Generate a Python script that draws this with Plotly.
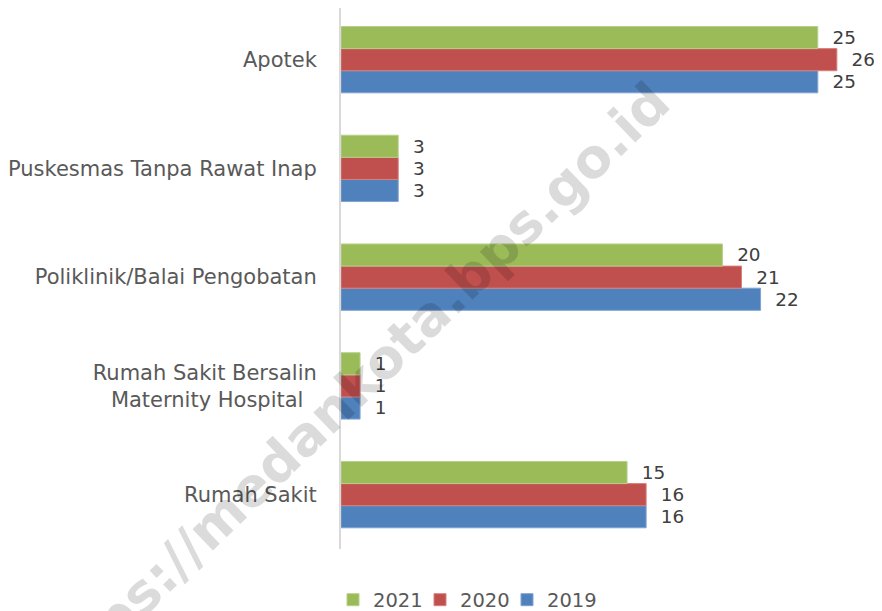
import plotly.graph_objects as go

categories = ["Rumah Sakit", "Rumah Sakit Bersalin<br>Maternity Hospital\u00a0\u00a0", "Poliklinik/Balai Pengobatan",
              "Puskesmas Tanpa Rawat Inap", "Apotek"]
years = ["2019", "2020", "2021"]
v2019 = [16, 1, 22, 3, 25]
v2020 = [16, 1, 21, 3, 26]
v2021 = [15, 1, 20, 3, 25]
colors = {"2019": "#4F81BD", "2020": "#C0504D", "2021": "#9BBB59"}
edge = {"2019": "#7FA3D0", "2020": "#D8807D", "2021": "#B7D08A"}
values = {"2019": v2019, "2020": v2020, "2021": v2021}

FONT = "DejaVu Sans"
# the page body adds an 8px offset; the figure is sized to fill the rest
W, H = 874, 603
fig = go.Figure()
for yr in years:
    fig.add_trace(go.Bar(
        y=categories, x=values[yr], name=yr, orientation="h",
        marker=dict(color=colors[yr], line=dict(color=edge[yr], width=1)),
        text=["\u00a0\u00a0" + str(v) for v in values[yr]], textposition="outside", cliponaxis=False,
        textfont=dict(family=FONT, size=20, color="#404040"),
        legendwidth=60 if yr == "2019" else None,
    ))

fig.update_layout(
    width=W, height=H,
    margin=dict(l=333, r=7, t=0, b=62, autoexpand=False),
    paper_bgcolor="white", plot_bgcolor="white",
    barmode="group", bargap=0.39, bargroupgap=0,
    font=dict(family=FONT, size=21, color="#595959"),
    showlegend=True,
    legend=dict(orientation="h", traceorder="reversed", xref="container", yref="container",
                x=325 / W, xanchor="left", y=11 / H, yanchor="middle",
                font=dict(size=19.5, color="#595959"), itemwidth=30,
                entrywidth=42, entrywidthmode="pixels"),
    xaxis=dict(range=[0, 28], visible=False, showgrid=False, zeroline=False),
    yaxis=dict(categoryorder="array", categoryarray=categories, showline=True, automargin=False,
               range=[-0.5, 4.475],
               linecolor="#D9D9D9", linewidth=2, ticks="", ticklabelstandoff=18,
               tickfont=dict(size=21, color="#595959"), showgrid=False),
)

fig.add_annotation(
    text="<b>https://medankota.bps.go.id</b>", xref="paper", yref="paper",
    x=(349 - 341) / 534, y=(549 - 394) / 541, xanchor="center", yanchor="middle",
    textangle=-44, showarrow=False,
    font=dict(family="DejaVu Sans", size=54, color="rgba(0,0,0,0.14)"),
)

fig.write_html("out.html")
